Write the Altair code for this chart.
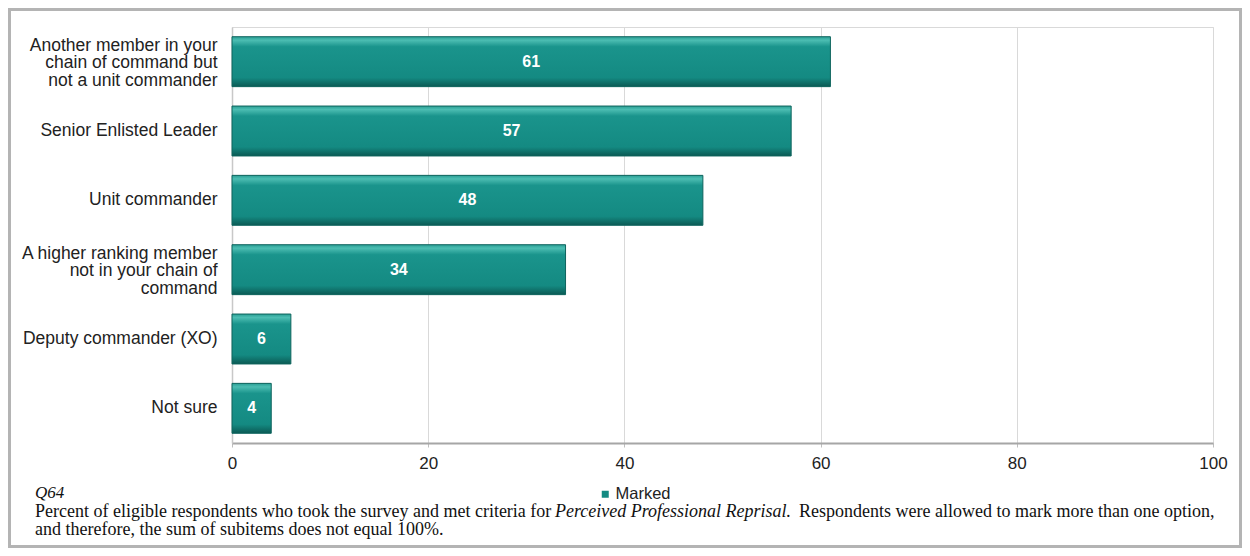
import altair as alt
import pandas as pd

categories = [
    "Another member in your|chain of command but|not a unit commander",
    "Senior Enlisted Leader",
    "Unit commander",
    "A higher ranking member|not in your chain of|command",
    "Deputy commander (XO)",
    "Not sure",
]
values = [61, 57, 48, 34, 6, 4]
series_name = "Marked"
x_ticks = [0, 20, 40, 60, 80, 100]

question = "Q64"
foot_1a = "Percent of eligible respondents who took the survey and met criteria for"
foot_1b = "Perceived Professional Reprisal."
foot_1c = "Respondents were allowed to mark more than one option,"
foot_2 = "and therefore, the sum of subitems does not equal 100%."

df = pd.DataFrame({"cat": categories, "pct": values, "series": [series_name] * len(values)})

W, H = 981, 416

grad = alt.Gradient(
    gradient="linear", x1=0, y1=0, x2=0, y2=1,
    stops=[
        alt.GradientStop(color="#2a9f95", offset=0),
        alt.GradientStop(color="#4cbdb2", offset=0.07),
        alt.GradientStop(color="#1a948c", offset=0.2),
        alt.GradientStop(color="#148a82", offset=0.82),
        alt.GradientStop(color="#0b5a54", offset=1),
    ],
)

x_enc = alt.X(
    "pct:Q",
    scale=alt.Scale(domain=[0, 100], nice=False),
    axis=alt.Axis(
        values=x_ticks, title=None, grid=True, gridColor="#d9d9d9", gridWidth=1,
        domainColor="#a6a6a6", domainWidth=2, tickColor="#bfbfbf", tickSize=4,
        labelFont="Liberation Sans", labelFontSize=17, labelColor="#222222",
        labelPadding=8, labelFlush=False,
    ),
)
y_enc = alt.Y(
    "cat:N",
    sort=categories,
    scale=alt.Scale(paddingInner=0.28, paddingOuter=0.14),
    axis=alt.Axis(
        title=None, ticks=False, domainColor="#c8c8c8", domainWidth=1.5,
        labelExpr="split(datum.label, '|')", labelFont="Liberation Sans",
        labelFontSize=17.5, labelColor="#222222", labelLineHeight=17.5,
        labelPadding=15, labelLimit=300, labelBaseline="middle",
        labelOffset={"condition": {"test": "indexof(datum.label, '|') >= 0", "value": -16}, "value": 0},
    ),
)

base = alt.Chart(df)

bars = base.mark_bar(fill=grad, stroke="#0e645d", strokeWidth=1).encode(x=x_enc, y=y_enc)

legend_layer = base.mark_square(opacity=0, size=49).encode(
    x="pct:Q",
    y=alt.Y("cat:N", sort=categories),
    color=alt.Color(
        "series:N",
        scale=alt.Scale(range=["#138a82"]),
        legend=alt.Legend(
            title=None, orient="none", legendX=365, legendY=459,
            symbolType="square", symbolSize=49, symbolOpacity=1,
            symbolStrokeWidth=0, padding=0, labelOffset=2,
            labelFont="Liberation Sans", labelFontSize=16.5, labelColor="#222222",
        ),
    ),
)

labels = base.transform_calculate(mid="datum.pct / 2").mark_text(
    color="white", font="Liberation Sans", fontWeight="bold", fontSize=16,
    align="center", baseline="middle",
).encode(
    x=alt.X("mid:Q"),
    y=alt.Y("cat:N", sort=categories),
    text=alt.Text("pct:Q"),
)

def note(txt, x, y, style="normal", size=18):
    return alt.Chart(pd.DataFrame({"t": [txt]})).mark_text(
        font="Liberation Serif", fontSize=size, fontStyle=style, color="#111111",
        align="left", baseline="middle",
    ).encode(x=alt.value(x), y=alt.value(y), text="t:N")

ox, oy = 232, 27
notes = [
    note(question, 35 - ox, 493 - oy, "italic", 17),
    note(foot_1a, 35 - ox, 512 - oy),
    note(foot_1b, 555 - ox, 512 - oy, "italic"),
    note(foot_1c, 799 - ox, 512 - oy),
    note(foot_2, 35 - ox, 530 - oy),
]

frame = alt.Chart(pd.DataFrame({"a": [0]})).mark_rect(
    fill="transparent", stroke="#b4b4b4", strokeWidth=3
).encode(
    x=alt.value(9.5 - ox), x2=alt.value(1240.5 - ox),
    y=alt.value(9.5 - oy), y2=alt.value(546.5 - oy),
)

chart = alt.layer(bars, legend_layer, labels, *notes, frame).properties(
    width=W, height=H,
    autosize=alt.AutoSizeParams(type="none"),
    padding={"left": 224, "top": 19, "right": 29, "bottom": 105},
    background="white",
).configure_view(stroke="#d9d9d9", strokeWidth=1)

chart.save("out.html", embed_options={"renderer": "svg", "actions": False})
